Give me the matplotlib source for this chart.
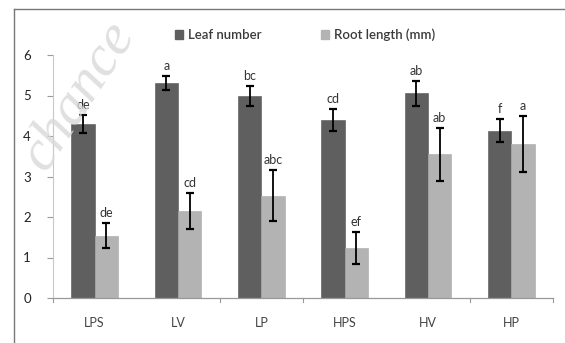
import matplotlib
matplotlib.use("Agg")
import matplotlib.pyplot as plt
import numpy as np
from matplotlib.lines import Line2D

categories = ["LPS", "LV", "LP", "HPS", "HV", "HP"]
leaf_number = [4.30, 5.30, 4.99, 4.40, 5.05, 4.13]
leaf_err = [0.22, 0.17, 0.25, 0.27, 0.31, 0.29]
leaf_letters = ["de", "a", "bc", "cd", "ab", "f"]
root_length = [1.54, 2.15, 2.53, 1.23, 3.55, 3.80]
root_err = [0.30, 0.45, 0.63, 0.39, 0.65, 0.70]
root_letters = ["de", "cd", "abc", "ef", "ab", "a"]
series_names = ["Leaf number", "Root length (mm)"]
yticks = [0, 1, 2, 3, 4, 5, 6]

FONT = "Lato"
W, H = 565, 343
fig = plt.figure(figsize=(W / 100, H / 100), dpi=100)

def fx(px):
    return px / W

def fy(py):
    return 1 - py / H

ax = fig.add_axes([fx(53), fy(298), fx(553) - fx(53), fy(55) - fy(298)])

x = np.arange(len(categories))
bw = 0.28
dark = "#5f5f5f"
light = "#b3b3b3"
ax.bar(x - bw / 2, leaf_number, bw, color=dark, edgecolor="#555555", linewidth=0.4, zorder=2)
ax.bar(x + bw / 2, root_length, bw, color=light, edgecolor="#a8a8a8", linewidth=0.4, zorder=2)
ax.errorbar(x - bw / 2, leaf_number, yerr=leaf_err, fmt="none", ecolor="black",
            elinewidth=1.3, capsize=3, capthick=1.6, zorder=3)
ax.errorbar(x + bw / 2, root_length, yerr=root_err, fmt="none", ecolor="black",
            elinewidth=1.3, capsize=3, capthick=1.6, zorder=3)

for xi, v, e, t in zip(x - bw / 2, leaf_number, leaf_err, leaf_letters):
    ax.annotate(t, (xi, v + e), xytext=(0, 3), textcoords="offset points",
                ha="center", va="bottom", fontsize=9, family=FONT, color="#333333")
for xi, v, e, t in zip(x + bw / 2, root_length, root_err, root_letters):
    ax.annotate(t, (xi, v + e), xytext=(0, 3), textcoords="offset points",
                ha="center", va="bottom", fontsize=9, family=FONT, color="#333333")

ax.set_xlim(-0.5, len(categories) - 0.5)
ax.set_ylim(0, 6)
ax.set_yticks(yticks)
ax.set_yticklabels([str(t) for t in yticks], fontsize=9.5, family=FONT, color="#222222")
ax.set_xticks(x)
ax.set_xticklabels(categories, fontsize=9, family=FONT, color="#444444")
ax.tick_params(axis="x", length=0, pad=14)
ax.tick_params(axis="y", length=4, width=0.8, color="#999999", pad=12, direction="out")
for b in [0, 2, 3, 5, 6]:
    ax.plot([b - 0.5, b - 0.5], [0, -0.1], color="#999999", lw=0.8, clip_on=False)
for s in ["top", "right"]:
    ax.spines[s].set_visible(False)
ax.spines["left"].set_color("#c8c8c8")
ax.spines["bottom"].set_color("#999999")
ax.spines["left"].set_linewidth(0.8)
ax.spines["bottom"].set_linewidth(0.9)

# legend
handles = [plt.Rectangle((0, 0), 1, 1, color=dark), plt.Rectangle((0, 0), 1, 1, color=light)]
fig.legend(handles, series_names, loc="center", bbox_to_anchor=(fx(305), fy(35)),
           ncol=2, frameon=False, handlelength=0.6, handleheight=0.6, handletextpad=0.4,
           columnspacing=4.5, prop={"family": FONT, "size": 9.5, "weight": "semibold"},
           labelcolor="#3a3a3a")

# outer frame
fig.add_artist(Line2D([fx(14), fx(14)], [fy(9), 0], color="#777777", lw=1.0))
fig.add_artist(Line2D([fx(14), 1], [fy(9), fy(9)], color="#777777", lw=1.0))

# watermark
fig.text(fx(78), fy(96), "chance", rotation=57, fontsize=42, style="italic",
         family="Liberation Serif", color="#d8d8d8", alpha=0.8,
         ha="center", va="center", zorder=0)

fig.savefig("out.png", dpi=100)
